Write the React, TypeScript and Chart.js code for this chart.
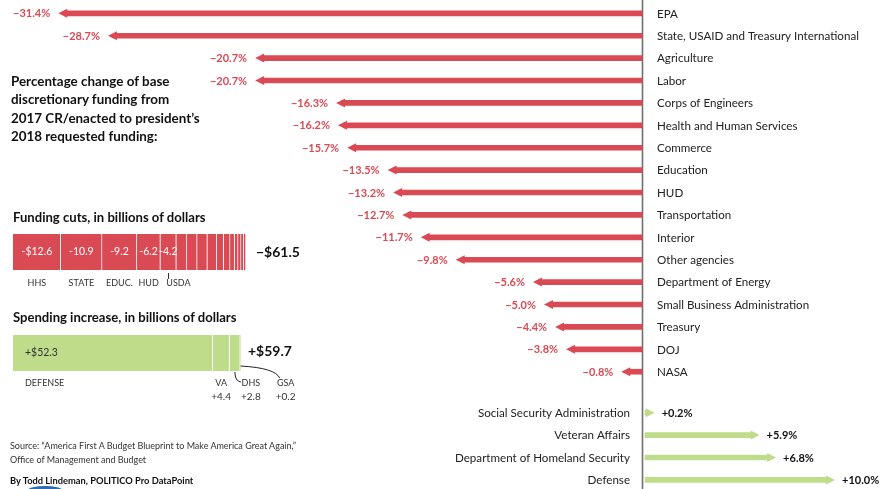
import React, { useEffect, useRef } from 'react';
import { Chart, registerables } from 'chart.js';

Chart.register(...registerables);

// ---------- data ----------
const cutCategories = [
  'EPA',
  'State, USAID and Treasury International',
  'Agriculture',
  'Labor',
  'Corps of Engineers',
  'Health and Human Services',
  'Commerce',
  'Education',
  'HUD',
  'Transportation',
  'Interior',
  'Other agencies',
  'Department of Energy',
  'Small Business Administration',
  'Treasury',
  'DOJ',
  'NASA',
];
const cutPercents = [-31.4, -28.7, -20.7, -20.7, -16.3, -16.2, -15.7, -13.5, -13.2, -12.7, -11.7, -9.8, -5.6, -5.0, -4.4, -3.8, -0.8];

const gainCategories = ['Social Security Administration', 'Veteran Affairs', 'Department of Homeland Security', 'Defense'];
const gainPercents = [0.2, 5.9, 6.8, 10.0];

const cutsBillionsLabels = ['HHS', 'STATE', 'EDUC.', 'HUD', 'USDA', '', '', '', '', '', '', '', '', '', '', ''];
const cutsBillions = [12.6, 10.9, 9.2, 6.2, 4.2, 2.8, 2.7, 2.7, 2.5, 1.8, 1.7, 1.2, 0.9, 0.8, 0.7, 0.6];
const cutsTotal = 61.5;

const increaseLabels = ['DEFENSE', 'VA', 'DHS', 'GSA'];
const increaseBillions = [52.3, 4.4, 2.8, 0.2];
const increaseTotal = 59.7;

const titleLines = [
  'Percentage change of base',
  'discretionary funding from',
  '2017 CR/enacted to president\u2019s',
  '2018 requested funding:',
];

// ---------- style ----------
const FONT = 'Lato, "Open Sans", sans-serif';
const RED = '#da4a54';
const GREEN = '#bfdc8a';
const GROUP_GAP = 0.83;
const HEAD_EXT = 6;
const HEAD_LEN = 9;
const HEAD_HALF = 4.5;

const fmtCut = (v: number) => '\u2212' + Math.abs(v).toFixed(1) + '%';
const fmtGain = (v: number) => '+' + v.toFixed(1) + '%';

const arrowPlugin = {
  id: 'arrowPlugin',
  beforeDatasetsDraw(chart: any) {
    const ctx = chart.ctx;
    const x0 = chart.scales.x.getPixelForValue(0);
    ctx.save();
    ctx.strokeStyle = '#6f6f6f';
    ctx.lineWidth = 1.6;
    ctx.beginPath();
    ctx.moveTo(x0 + 0.5, chart.chartArea.top);
    ctx.lineTo(x0 + 0.5, chart.chartArea.bottom);
    ctx.stroke();
    ctx.restore();
  },
  afterDatasetsDraw(chart: any) {
    const ctx = chart.ctx;
    const axisX = chart.scales.x.getPixelForValue(0);
    ctx.save();
    chart.data.datasets.forEach((ds: any, di: number) => {
      const meta = chart.getDatasetMeta(di);
      const cats = di === 0 ? cutCategories : gainCategories;
      const vals = di === 0 ? cutPercents : gainPercents;
      meta.data.forEach((bar: any, i: number) => {
        const { x, y, base } = bar.getProps(['x', 'y', 'base'], true);
        const dir = x < base ? -1 : 1;
        const tip = x + dir * HEAD_EXT;
        const back = tip - dir * HEAD_LEN;
        ctx.fillStyle = ds.backgroundColor;
        ctx.beginPath();
        ctx.moveTo(tip, y);
        ctx.lineTo(back, y - HEAD_HALF);
        ctx.lineTo(back, y + HEAD_HALF);
        ctx.closePath();
        ctx.fill();
        ctx.textBaseline = 'middle';
        if (dir < 0) {
          ctx.font = `bold 11px ${FONT}`;
          ctx.fillStyle = RED;
          ctx.textAlign = 'right';
          ctx.fillText(fmtCut(vals[i]), tip - 8, y + 0.5);
          ctx.font = `11.6px ${FONT}`;
          ctx.fillStyle = '#222';
          ctx.textAlign = 'left';
          ctx.fillText(cats[i], axisX + 15, y + 0.5);
        } else {
          ctx.font = `bold 11px ${FONT}`;
          ctx.fillStyle = '#111';
          ctx.textAlign = 'left';
          ctx.fillText(fmtGain(vals[i]), tip + 7, y + 0.5);
          ctx.font = `11.6px ${FONT}`;
          ctx.fillStyle = '#222';
          ctx.textAlign = 'right';
          ctx.fillText(cats[i], axisX - 12, y + 0.5);
        }
      });
    });
    ctx.restore();
  },
};

const cutsPlugin = {
  id: 'cutsPlugin',
  afterDatasetsDraw(chart: any) {
    const ctx = chart.ctx;
    const area = chart.chartArea;
    ctx.save();
    chart.data.datasets.forEach((ds: any, di: number) => {
      const bar = chart.getDatasetMeta(di).data[0];
      const { x, y, base } = bar.getProps(['x', 'y', 'base'], true);
      const cx = (x + base) / 2;
      if (cutsBillionsLabels[di]) {
        ctx.font = `10.5px ${FONT}`;
        ctx.fillStyle = '#fff';
        ctx.textAlign = 'center';
        ctx.textBaseline = 'middle';
        const txt = '-' + (di === 0 ? '$' : '') + cutsBillions[di].toFixed(1);
        ctx.fillText(txt, cx, y);
        ctx.font = `9px ${FONT}`;
        ctx.fillStyle = '#333';
        if (di === 4) {
          ctx.strokeStyle = '#333';
          ctx.lineWidth = 1;
          ctx.beginPath();
          ctx.moveTo(Math.round(cx) + 0.5, area.bottom + 3);
          ctx.lineTo(Math.round(cx) + 0.5, area.bottom + 9);
          ctx.stroke();
          ctx.textAlign = 'left';
          ctx.fillText(cutsBillionsLabels[di], cx - 2, area.bottom + 13.5);
        } else {
          ctx.fillText(cutsBillionsLabels[di], cx, area.bottom + 13.5);
        }
      }
    });
    ctx.font = `bold 14px ${FONT}`;
    ctx.fillStyle = '#111';
    ctx.textAlign = 'left';
    ctx.textBaseline = 'middle';
    ctx.fillText('\u2212$' + cutsTotal.toFixed(1), area.right + 10, (area.top + area.bottom) / 2);
    ctx.restore();
  },
};

const incPlugin = {
  id: 'incPlugin',
  afterDatasetsDraw(chart: any) {
    const ctx = chart.ctx;
    const area = chart.chartArea;
    ctx.save();
    const props = chart.data.datasets.map((_: any, di: number) =>
      chart.getDatasetMeta(di).data[0].getProps(['x', 'y', 'base'], true)
    );
    const yMid = props[0].y;
    ctx.font = `10.5px ${FONT}`;
    ctx.fillStyle = '#333';
    ctx.textAlign = 'left';
    ctx.textBaseline = 'middle';
    ctx.fillText('+$' + increaseBillions[0].toFixed(1), props[0].base + 12, yMid);
    ctx.font = `bold 14px ${FONT}`;
    ctx.fillStyle = '#111';
    ctx.fillText('+$' + increaseTotal.toFixed(1), area.right + 7, yMid - 2);
    const l1 = area.bottom + 12.5;
    const l2 = area.bottom + 25.5;
    ctx.font = `9px ${FONT}`;
    ctx.fillStyle = '#333';
    ctx.textAlign = 'left';
    ctx.fillText(increaseLabels[0], props[0].base + 12, l1);
    ctx.textAlign = 'center';
    const vaX = (props[1].x + props[1].base) / 2;
    ctx.fillText(increaseLabels[1], vaX, l1);
    const dhsX = (props[2].x + props[2].base) / 2;
    const gsaX = (props[3].x + props[3].base) / 2;
    const dhsLabel = dhsX + 16;
    const gsaLabel = gsaX + 45;
    ctx.fillText(increaseLabels[2], dhsLabel, l1);
    ctx.fillText(increaseLabels[3], gsaLabel, l1);
    ctx.font = `10px ${FONT}`;
    ctx.fillText('+' + increaseBillions[1].toFixed(1), vaX, l2);
    ctx.fillText('+' + increaseBillions[2].toFixed(1), dhsLabel, l2);
    ctx.fillText('+' + increaseBillions[3].toFixed(1), gsaLabel, l2);
    ctx.strokeStyle = '#222';
    ctx.lineWidth = 1;
    ctx.beginPath();
    ctx.moveTo(dhsX, area.bottom + 1);
    ctx.quadraticCurveTo(dhsX, area.bottom + 10, dhsX + 6, area.bottom + 11);
    ctx.stroke();
    ctx.beginPath();
    ctx.moveTo(gsaX, area.bottom - 5);
    ctx.quadraticCurveTo(gsaLabel - 10, area.bottom - 3, gsaLabel - 6, area.bottom + 7);
    ctx.stroke();
    ctx.restore();
  },
};

function useChart(ref: React.RefObject<HTMLCanvasElement>, make: () => any) {
  useEffect(() => {
    if (!ref.current) return;
    const chart = new Chart(ref.current, make());
    return () => chart.destroy();
  }, []);
}

function Txt(props: { x: number; y: number; size: number; bold?: boolean; lh?: number; children: any; color?: string }) {
  const lh = props.lh ?? props.size * 1.3;
  return (
    <div
      style={{
        position: 'absolute',
        left: props.x,
        top: props.y - lh / 2,
        fontSize: props.size,
        lineHeight: lh + 'px',
        fontWeight: props.bold ? 700 : 400,
        color: props.color ?? '#222',
        whiteSpace: 'pre',
      }}
    >
      {props.children}
    </div>
  );
}

export default function App() {
  const mainRef = useRef<HTMLCanvasElement>(null);
  const cutsRef = useRef<HTMLCanvasElement>(null);
  const incRef = useRef<HTMLCanvasElement>(null);

  useChart(mainRef, () => ({
    type: 'bar',
    data: {
      datasets: [
        {
          label: 'Cuts',
          data: cutPercents.map((v, i) => ({ x: v, y: i })),
          backgroundColor: RED,
          xAxisID: 'x',
          yAxisID: 'y',
          barThickness: 5,
          grouped: false,
        },
        {
          label: 'Increases',
          data: gainPercents.map((v, i) => ({ x: v, y: cutPercents.length + GROUP_GAP + i })),
          backgroundColor: GREEN,
          xAxisID: 'x2',
          yAxisID: 'y',
          barThickness: 5,
          grouped: false,
        },
      ],
    },
    options: {
      indexAxis: 'y',
      responsive: false,
      maintainAspectRatio: false,
      animation: false,
      layout: { padding: 0 },
      plugins: { legend: { display: false }, tooltip: { enabled: false } },
      scales: {
        x: { type: 'linear', min: -34.891, max: 12.989, display: false, offset: false },
        x2: { type: 'linear', min: -35.054, max: 12.826, display: false, offset: false },
        y: { type: 'linear', min: -0.594, max: 21.236, reverse: true, display: false, offset: false },
      },
    },
    plugins: [arrowPlugin],
  }));

  useChart(cutsRef, () => ({
    type: 'bar',
    data: {
      labels: [''],
      datasets: cutsBillions.map((v, i) => ({
        label: cutsBillionsLabels[i] || 'other',
        data: [v],
        backgroundColor: RED,
        borderColor: 'rgba(255,255,255,0.8)',
        borderWidth: { right: 1 },
        borderSkipped: false,
        categoryPercentage: 1,
        barPercentage: 1,
      })),
    },
    options: {
      indexAxis: 'y',
      responsive: false,
      maintainAspectRatio: false,
      animation: false,
      layout: { padding: { left: 13, right: 64, top: 12, bottom: 24 } },
      plugins: { legend: { display: false }, tooltip: { enabled: false } },
      scales: {
        x: { stacked: true, min: 0, max: cutsTotal, display: false },
        y: { stacked: true, display: false },
      },
    },
    plugins: [cutsPlugin],
  }));

  useChart(incRef, () => ({
    type: 'bar',
    data: {
      labels: [''],
      datasets: increaseBillions.map((v, i) => ({
        label: increaseLabels[i],
        data: [v],
        backgroundColor: GREEN,
        borderColor: 'rgba(255,255,255,0.9)',
        borderWidth: { right: 1 },
        borderSkipped: false,
        categoryPercentage: 1,
        barPercentage: 1,
      })),
    },
    options: {
      indexAxis: 'y',
      responsive: false,
      maintainAspectRatio: false,
      animation: false,
      layout: { padding: { left: 13, right: 69, top: 13, bottom: 31 } },
      plugins: { legend: { display: false }, tooltip: { enabled: false } },
      scales: {
        x: { stacked: true, min: 0, max: increaseTotal, display: false },
        y: { stacked: true, display: false },
      },
    },
    plugins: [incPlugin],
  }));

  return (
    <div
      style={{
        position: 'fixed',
        left: 0,
        top: 0,
        width: 881,
        height: 489,
        background: '#fff',
        overflow: 'hidden',
        fontFamily: FONT,
      }}
    >
      <canvas ref={mainRef} width={881} height={489} style={{ position: 'absolute', left: 0, top: 0, width: 881, height: 489 }} />
      <div style={{ position: 'absolute', left: 11, top: 81 - 9.2, fontSize: 13.4, lineHeight: '18.4px', fontWeight: 700, color: '#111' }}>
        {titleLines.map((t) => (
          <div key={t}>{t}</div>
        ))}
      </div>
      <Txt x={13} y={218} size={13.1} bold color="#111">Funding cuts, in billions of dollars</Txt>
      <canvas ref={cutsRef} width={310} height={72} style={{ position: 'absolute', left: 0, top: 222, width: 310, height: 72 }} />
      <Txt x={13} y={318} size={13.1} bold color="#111">Spending increase, in billions of dollars</Txt>
      <canvas ref={incRef} width={310} height={80} style={{ position: 'absolute', left: 0, top: 322, width: 310, height: 80 }} />
      <div style={{ position: 'absolute', left: 10, top: 439, fontSize: 9, lineHeight: '14px', color: '#333' }}>
        <div>Source: {'\u201C'}America First A Budget Blueprint to Make America Great Again,{'\u201D'}</div>
        <div>Office of Management and Budget</div>
      </div>
      <Txt x={10} y={481} size={9.3} bold color="#111">By Todd Lindeman, POLITICO Pro DataPoint</Txt>
      <div style={{ position: 'absolute', left: 28, top: 486, width: 34, height: 8, borderRadius: '50%', background: '#2a6db3' }} />
    </div>
  );
}
